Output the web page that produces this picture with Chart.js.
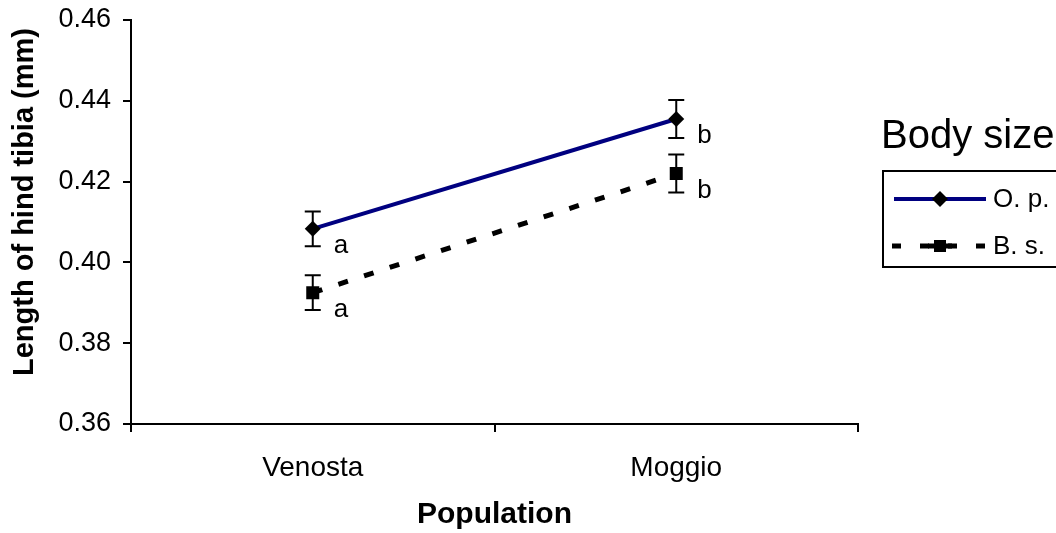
<!DOCTYPE html>
<html>
<head>
<meta charset="utf-8">
<script src="https://cdn.jsdelivr.net/npm/chart.js@4.4.0/dist/chart.umd.min.js"></script>
<style>
  html, body { margin: 0; padding: 0; background: #fff; }
  #wrap { width: 1056px; height: 533px; position: relative; }
</style>
</head>
<body>
<div id="wrap"><canvas id="chart" width="1056" height="533"></canvas></div>
<script>
// Chart data
const populations = ['Venosta', 'Moggio'];
const opValues = [0.4083, 0.4355];
const opErrors = [0.0043, 0.0047];
const bsValues = [0.3925, 0.4220];
const bsErrors = [0.0043, 0.0047];
const opLetters = ['a', 'b'];
const bsLetters = ['a', 'b'];
const yTicks = [0.36, 0.38, 0.40, 0.42, 0.44, 0.46];
const seriesNames = ['O. p.', 'B. s.'];

const FONT = '"Liberation Sans", Arial, sans-serif';

// Error bars + significance letters
const errorBarPlugin = {
    id: 'errorBars',
    afterDatasetsDraw(chart) {
        const ctx = chart.ctx;
        const x = chart.scales.x;
        const y = chart.scales.y;
        const sets = [
            { vals: opValues, errs: opErrors, letters: opLetters },
            { vals: bsValues, errs: bsErrors, letters: bsLetters }
        ];
        ctx.save();
        ctx.strokeStyle = '#000';
        ctx.lineWidth = 2;
        sets.forEach(s => {
            s.vals.forEach((v, i) => {
                const px = x.getPixelForValue(i);
                const top = y.getPixelForValue(v + s.errs[i]);
                const bot = y.getPixelForValue(v - s.errs[i]);
                ctx.beginPath();
                ctx.moveTo(px, top); ctx.lineTo(px, bot);
                ctx.moveTo(px - 8, top); ctx.lineTo(px + 8, top);
                ctx.moveTo(px - 8, bot); ctx.lineTo(px + 8, bot);
                ctx.stroke();
                ctx.fillStyle = '#000';
                ctx.font = '26px ' + FONT;
                ctx.textAlign = 'left';
                ctx.textBaseline = 'middle';
                ctx.fillText(s.letters[i], px + 21, y.getPixelForValue(v) + 17);
            });
        });
        ctx.restore();
    }
};

// Y title + legend box on the right, clipped by the canvas edge like the original
const decorPlugin = {
    id: 'decor',
    afterDraw(chart) {
        const ctx = chart.ctx;
        ctx.save();
        ctx.fillStyle = '#000';
        ctx.translate(25, 202);
        ctx.rotate(-Math.PI / 2);
        ctx.font = 'bold 29px ' + FONT;
        ctx.textAlign = 'center';
        ctx.textBaseline = 'middle';
        ctx.fillText('Length of hind tibia (mm)', 0, 0);
        ctx.restore();

        ctx.save();
        ctx.fillStyle = '#000';
        ctx.font = '40px ' + FONT;
        ctx.textAlign = 'left';
        ctx.textBaseline = 'alphabetic';
        ctx.fillText('Body size', 881, 148);

        ctx.strokeStyle = '#000';
        ctx.lineWidth = 2;
        ctx.strokeRect(883, 171, 300, 96);

        // O. p. row
        ctx.strokeStyle = '#000080';
        ctx.lineWidth = 4;
        ctx.beginPath();
        ctx.moveTo(894, 199); ctx.lineTo(986, 199);
        ctx.stroke();
        ctx.fillStyle = '#000';
        ctx.beginPath();
        ctx.moveTo(940, 191); ctx.lineTo(948, 199); ctx.lineTo(940, 207); ctx.lineTo(932, 199);
        ctx.closePath(); ctx.fill();

        // B. s. row
        ctx.strokeStyle = '#000';
        ctx.lineWidth = 5;
        ctx.setLineDash([9, 19]);
        ctx.beginPath();
        ctx.moveTo(892, 246); ctx.lineTo(990, 246);
        ctx.stroke();
        ctx.setLineDash([]);
        ctx.beginPath();
        ctx.moveTo(928, 246); ctx.lineTo(952, 246);
        ctx.stroke();
        ctx.fillRect(934, 240, 12, 12);

        ctx.font = '26px ' + FONT;
        ctx.textBaseline = 'middle';
        ctx.fillText(seriesNames[0], 993, 200);
        ctx.fillText(seriesNames[1], 993, 247);
        ctx.restore();
    }
};

new Chart(document.getElementById('chart'), {
    type: 'line',
    data: {
        labels: populations,
        datasets: [
            {
                label: seriesNames[0],
                data: opValues,
                borderColor: '#000080',
                borderWidth: 4,
                pointStyle: 'rectRot',
                pointRadius: 8,
                pointBackgroundColor: '#000',
                pointBorderColor: '#000',
                pointBorderWidth: 0,
                tension: 0
            },
            {
                label: seriesNames[1],
                data: bsValues,
                borderColor: '#000',
                borderWidth: 5,
                borderDash: [10, 17],
                pointStyle: 'rect',
                pointRadius: 9.2,
                pointBackgroundColor: '#000',
                pointBorderColor: '#000',
                pointBorderWidth: 0,
                tension: 0
            }
        ]
    },
    options: {
        responsive: false,
        animation: false,
        layout: { padding: { left: 0, top: 20, right: 198, bottom: 0 } },
        plugins: {
            legend: { display: false },
            tooltip: { enabled: false }
        },
        scales: {
            x: {
                offset: true,
                afterFit: s => { s.height = 109; s.paddingLeft = 0; s.paddingRight = 0; },
                grid: {
                    offset: true,
                    drawOnChartArea: false,
                    drawTicks: true,
                    tickLength: 8,
                    color: '#000',
                    lineWidth: 2
                },
                border: { color: '#000', width: 2 },
                ticks: { color: '#000', font: { family: FONT, size: 28 }, padding: 19 },
                title: {
                    display: true,
                    text: 'Population',
                    color: '#000',
                    font: { family: FONT, size: 30, weight: 'bold' },
                    padding: { top: 10, bottom: 0 }
                }
            },
            y: {
                min: 0.36,
                max: 0.46,
                afterFit: s => { s.width = 131; s.paddingTop = 0; s.paddingBottom = 0; },
                afterBuildTicks: s => { s.ticks = yTicks.map(v => ({ value: v })); },
                grid: {
                    drawOnChartArea: false,
                    drawTicks: true,
                    tickLength: 8,
                    color: '#000',
                    lineWidth: 2
                },
                border: { color: '#000', width: 2 },
                ticks: {
                    color: '#000',
                    font: { family: FONT, size: 27 },
                    padding: 12,
                    callback: v => v.toFixed(2)
                },
                title: { display: false }
            }
        }
    },
    plugins: [errorBarPlugin, decorPlugin]
});
</script>
</body>
</html>
